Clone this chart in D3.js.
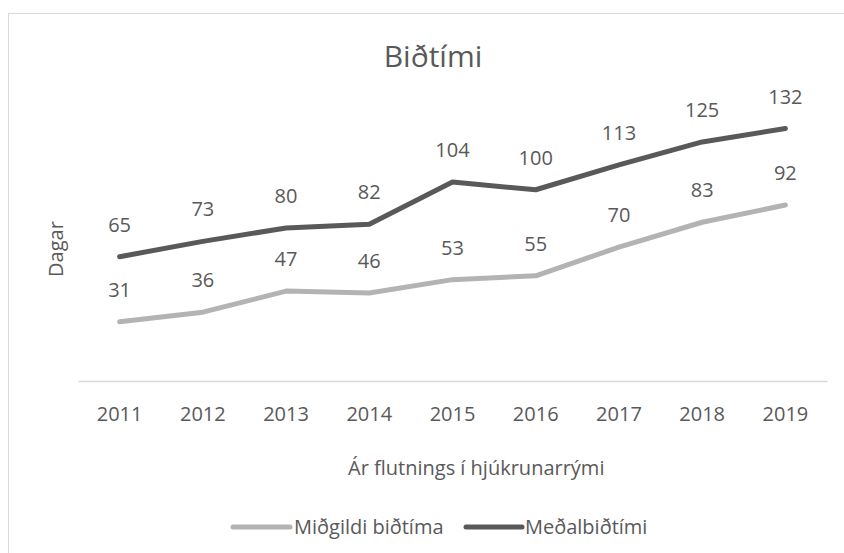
<!DOCTYPE html>
<html>
<head>
<meta charset="utf-8">
<script src="https://cdn.jsdelivr.net/npm/d3@7"></script>
<style>
  html, body { margin: 0; padding: 0; background: #fff; }
  text { font-family: "Open Sans", "Noto Sans", sans-serif; fill: #595959; }
</style>
</head>
<body>
<svg id="chart" width="844" height="553"></svg>
<script>
const years = ["2011","2012","2013","2014","2015","2016","2017","2018","2019"];
const medianValues = [31, 36, 47, 46, 53, 55, 70, 83, 92];
const meanValues = [65, 73, 80, 82, 104, 100, 113, 125, 132];
const seriesNames = ["Miðgildi biðtíma", "Meðalbiðtími"];
const seriesColors = ["#b3b3b3", "#595959"];

const svg = d3.select("#chart");
const plot = { left: 78, right: 827, top: 75, bottom: 381 };

// outer chart border (extends beyond the visible area on right/bottom)
svg.append("rect")
  .attr("x", 8.5).attr("y", 13.5)
  .attr("width", 900).attr("height", 600)
  .attr("fill", "none").attr("stroke", "#d9d9d9").attr("stroke-width", 1);

const x = d3.scaleBand().domain(years).range([plot.left, plot.right]);
const y = d3.scaleLinear().domain([0, 160]).range([plot.bottom, plot.top]);

// category axis / baseline
const xAxis = d3.axisBottom(x).tickSize(0).tickPadding(0);
const gx = svg.append("g").attr("transform", `translate(0,${plot.bottom})`).call(xAxis);
gx.select(".domain").attr("stroke", "#d9d9d9").attr("stroke-width", 1.5);
gx.selectAll(".tick text")
  .attr("y", 40).attr("dy", 0)
  .style("font-size", "20px").style("fill", "#595959")
  .style("font-family", "'Open Sans', 'Noto Sans', sans-serif");

const line = d3.line()
  .x((d, i) => x(years[i]) + x.bandwidth() / 2)
  .y(d => y(d));

const series = [medianValues, meanValues];
series.forEach((vals, si) => {
  svg.append("path")
    .datum(vals)
    .attr("d", line)
    .attr("fill", "none")
    .attr("stroke", seriesColors[si])
    .attr("stroke-width", 5)
    .attr("stroke-linecap", "round")
    .attr("stroke-linejoin", "round");
  svg.append("g").selectAll("text")
    .data(vals).join("text")
    .attr("x", (d, i) => x(years[i]) + x.bandwidth() / 2)
    .attr("y", d => y(d) - 25)
    .attr("text-anchor", "middle")
    .style("font-size", "20px")
    .text(d => d);
});

// title
svg.append("text")
  .attr("x", 433).attr("y", 67)
  .attr("text-anchor", "middle")
  .style("font-size", "30px")
  .text("Biðtími");

// y axis title
svg.append("text")
  .attr("transform", `translate(63,249) rotate(-90)`)
  .attr("text-anchor", "middle")
  .style("font-size", "20px")
  .text("Dagar");

// x axis title
svg.append("text")
  .attr("x", 348).attr("y", 475)
  .attr("text-anchor", "start")
  .style("font-size", "20px")
  .text("Ár flutnings í hjúkrunarrými");

// legend
const legendItems = [
  { name: seriesNames[0], color: seriesColors[0], x1: 233, x2: 290, tx: 294 },
  { name: seriesNames[1], color: seriesColors[1], x1: 466, x2: 522, tx: 525 }
];
const lg = svg.append("g");
legendItems.forEach(it => {
  lg.append("line")
    .attr("x1", it.x1).attr("x2", it.x2)
    .attr("y1", 527).attr("y2", 527)
    .attr("stroke", it.color).attr("stroke-width", 5)
    .attr("stroke-linecap", "round");
  lg.append("text")
    .attr("x", it.tx).attr("y", 534)
    .style("font-size", "20px")
    .text(it.name);
});
</script>
</body>
</html>
